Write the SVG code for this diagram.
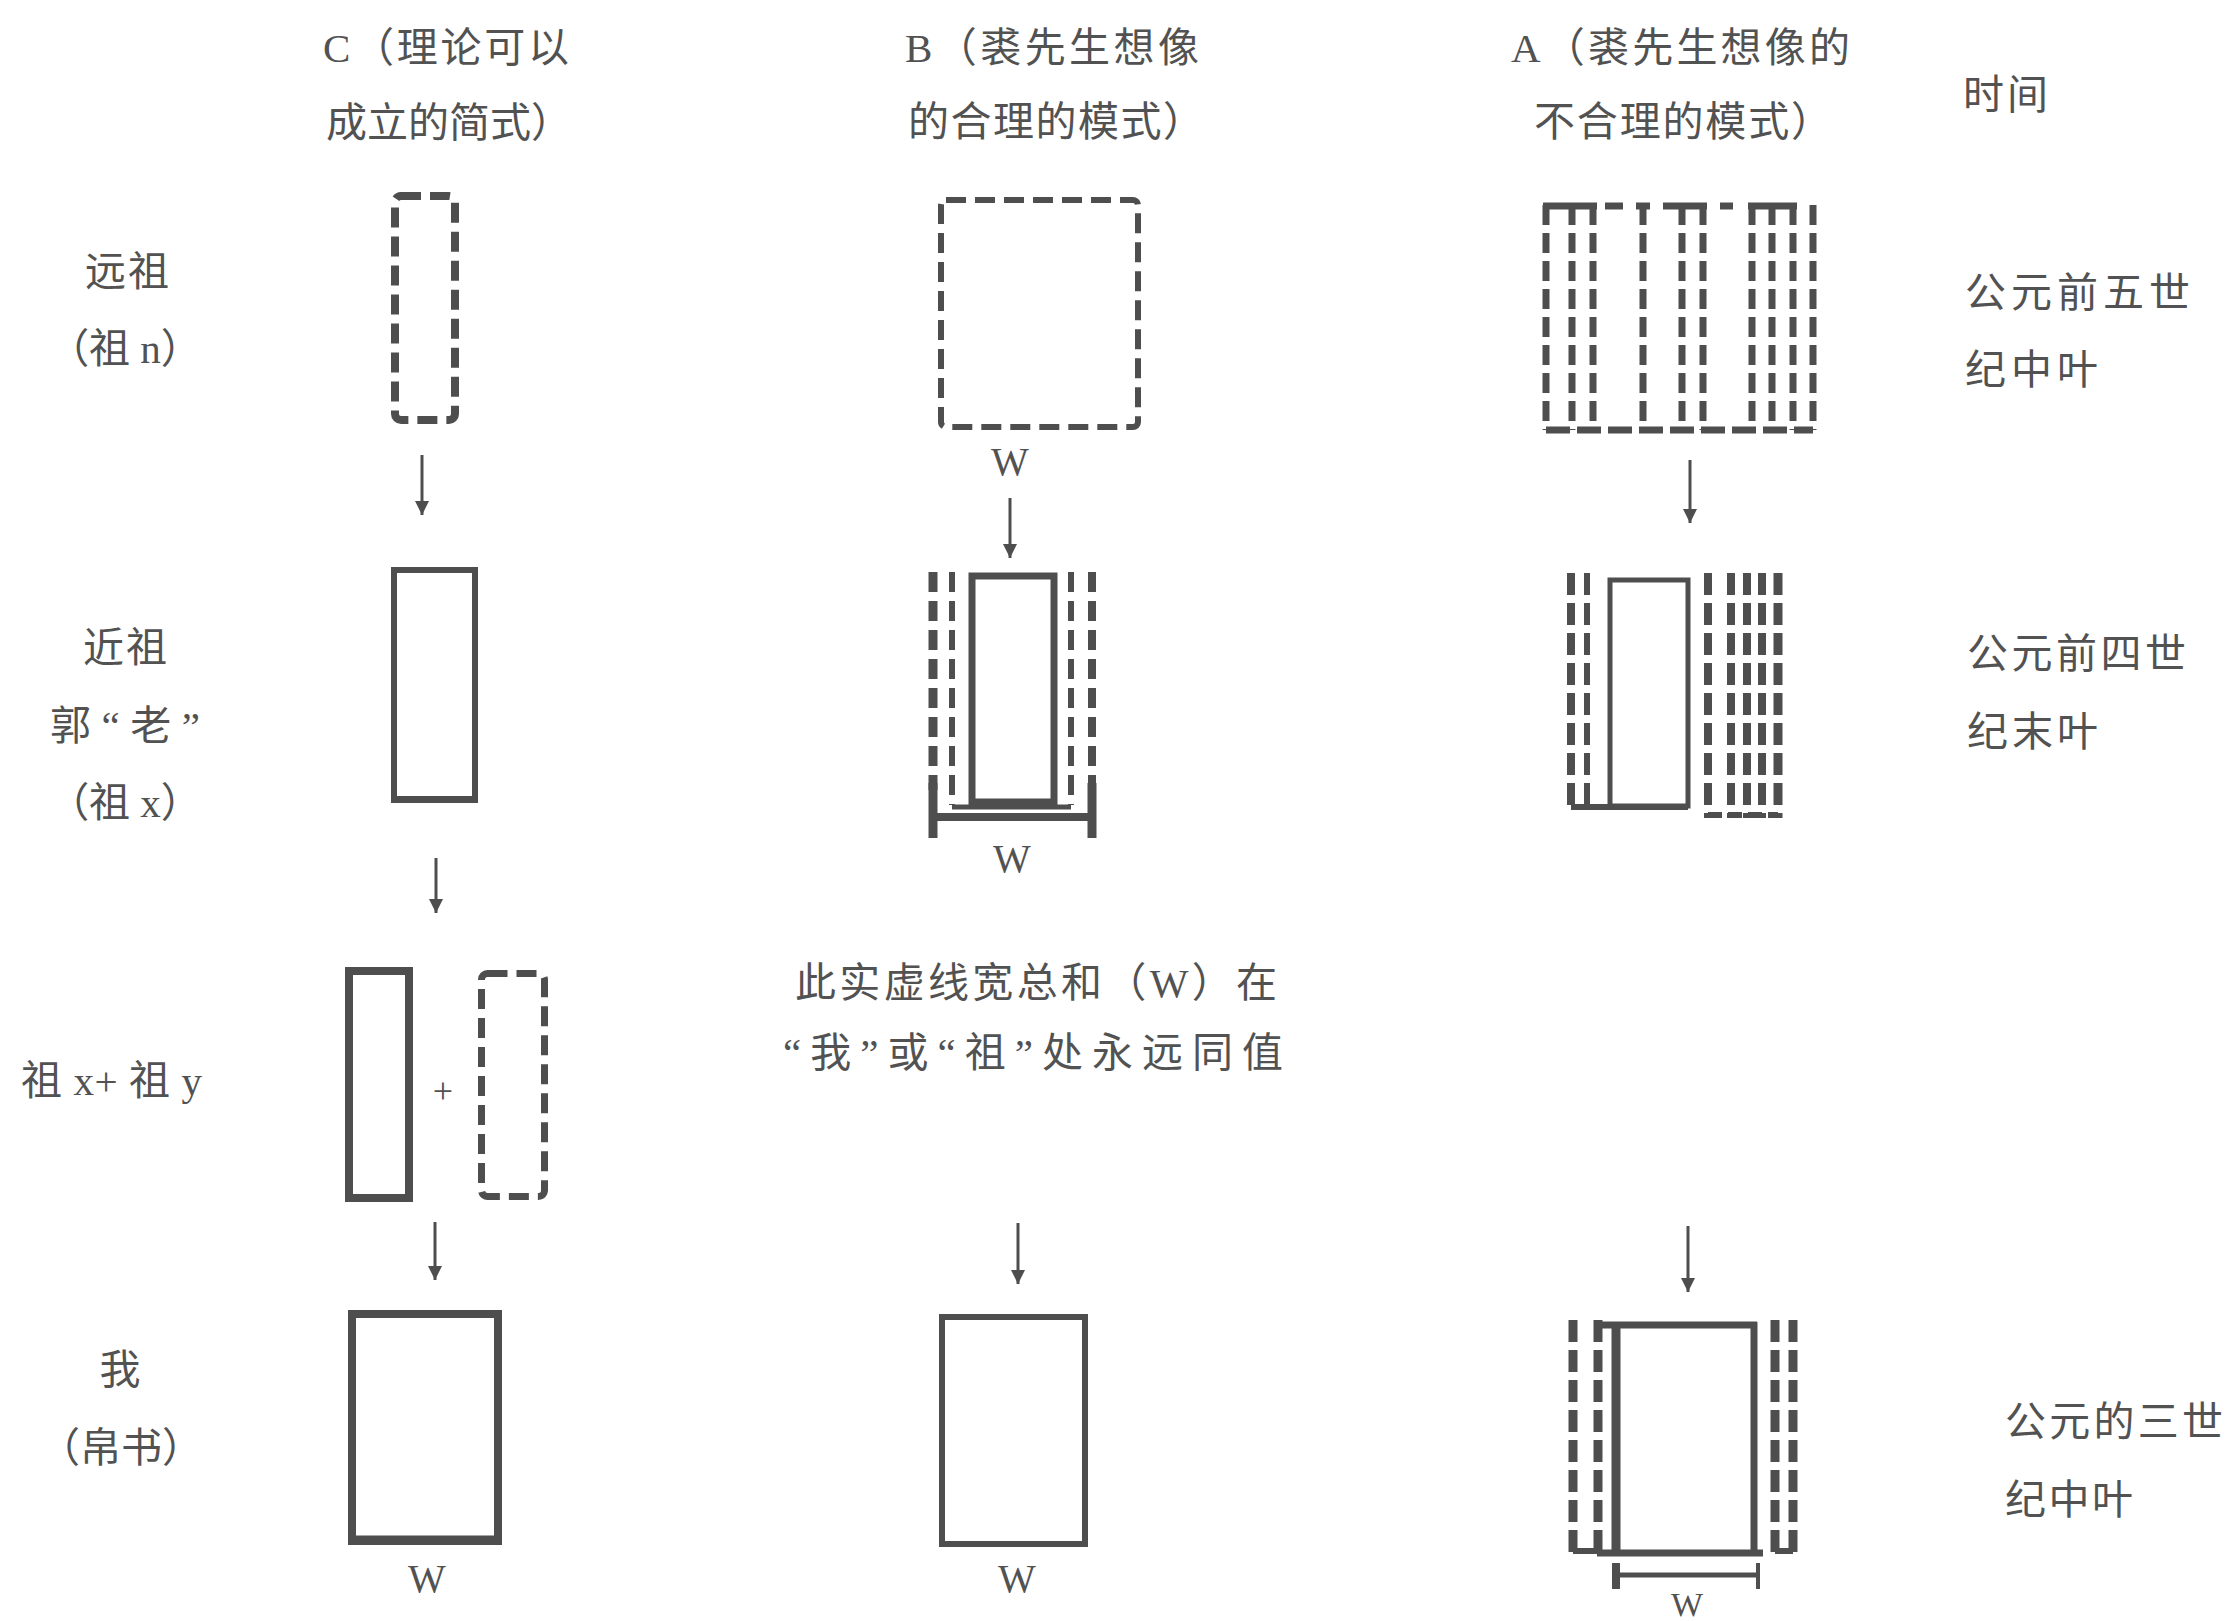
<svg xmlns="http://www.w3.org/2000/svg" width="2230" height="1621" viewBox="0 0 2230 1621">
<defs>
<style>
.t{font-family:"Liberation Serif","Noto Sans CJK SC",serif;font-size:41px;fill:#525252;}
.c{text-anchor:middle;}
.w{font-family:"Liberation Serif",serif;font-size:40px;fill:#525252;text-anchor:middle;}
.s{fill:none;stroke:#4e4e4e;}
.d{fill:none;stroke:#4e4e4e;stroke-dasharray:20 9;}
.a{stroke:#4e4e4e;stroke-width:3;fill:none;marker-end:url(#ah);}
</style>
<marker id="ah" markerUnits="userSpaceOnUse" markerWidth="16" markerHeight="16" refX="14" refY="7" orient="auto">
<path d="M0,0 L14,7 L0,14 z" fill="#4e4e4e"/>
</marker>
</defs>
<rect width="2230" height="1621" fill="#ffffff"/>

<g id="headers">
<text class="t" x="323" y="62" textLength="246">C（理论可以</text>
<text class="t" x="326" y="137" textLength="246">成立的简式）</text>
<text class="t" x="905" y="62" textLength="294">B（裘先生想像</text>
<text class="t" x="908" y="136" textLength="296">的合理的模式）</text>
<text class="t" x="1511" y="62" textLength="339">A（裘先生想像的</text>
<text class="t" x="1534" y="136" textLength="298">不合理的模式）</text>
</g>

<g id="time-labels">
<text class="t" x="1963" y="109" textLength="85">时间</text>
<text class="t" x="1965" y="307" textLength="225">公元前五世</text>
<text class="t" x="1965" y="384" textLength="133">纪中叶</text>
<text class="t" x="1967" y="668" textLength="219">公元前四世</text>
<text class="t" x="1967" y="746" textLength="131">纪末叶</text>
<text class="t" x="2005" y="1436" textLength="218">公元的三世</text>
<text class="t" x="2005" y="1514" textLength="128">纪中叶</text>
</g>

<g id="row-labels">
<text class="t" x="85" y="286" textLength="84">远祖</text>
<text class="t c" x="125" y="363">（祖 n）</text>
<text class="t" x="83" y="662" textLength="84">近祖</text>
<text class="t" x="50" y="740" textLength="150">郭“老”</text>
<text class="t c" x="125" y="817">（祖 x）</text>
<text class="t" x="21" y="1095" textLength="181">祖 x+ 祖 y</text>
<text class="t c" x="120" y="1384">我</text>
<text class="t c" x="121" y="1462">（帛书）</text>
</g>

<g id="note">
<text class="t" x="795" y="997" textLength="482">此实虚线宽总和（W）在</text>
<text class="t" x="783" y="1067" textLength="500">“我”或“祖”处永远同值</text>
</g>

<g id="C1">
<rect class="d" x="395" y="196" width="60" height="224" rx="6" stroke-width="8" stroke-dasharray="20 14"/>
</g>
<g id="C2">
<rect class="s" x="394" y="570" width="81" height="230" stroke-width="6"/>
<line class="s" x1="391" y1="799" x2="478" y2="799" stroke-width="6"/>
</g>
<g id="C3">
<rect class="s" x="349" y="971" width="60" height="227" stroke-width="8"/>
<text class="w" x="443" y="1103" style="font-size:36px">+</text>
<rect class="d" x="481.5" y="973.5" width="63" height="223" rx="6" stroke-width="7" stroke-dasharray="20 12"/>
</g>
<g id="C4">
<rect class="s" x="352" y="1314" width="146" height="227" stroke-width="8"/>
<line class="s" x1="352" y1="1540" x2="498" y2="1540" stroke-width="9"/>
<text class="w" x="427" y="1592">W</text>
</g>

<g id="B1">
<rect class="d" x="941" y="200" width="197" height="227" rx="5" stroke-width="6" stroke-dasharray="17 9"/>
<text class="w" x="1010" y="475">W</text>
</g>
<g id="B2">
<line class="d" x1="933" y1="572" x2="933" y2="790" stroke-width="9"/>
<line class="d" x1="952" y1="572" x2="952" y2="805" stroke-width="6"/>
<rect class="s" x="972" y="576" width="82" height="226" stroke-width="7"/>
<line class="d" x1="1071" y1="572" x2="1071" y2="805" stroke-width="6"/>
<line class="d" x1="1092" y1="572" x2="1092" y2="790" stroke-width="8"/>
<line class="s" x1="952" y1="807" x2="1071" y2="807" stroke-width="5"/>
<line class="s" x1="933" y1="817" x2="1092" y2="817" stroke-width="8"/>
<line class="s" x1="933" y1="783" x2="933" y2="838" stroke-width="9"/>
<line class="s" x1="1092" y1="783" x2="1092" y2="838" stroke-width="9"/>
<text class="w" x="1012" y="872">W</text>
</g>
<g id="B3">
<rect class="s" x="942" y="1317" width="143" height="227" stroke-width="6"/>
<text class="w" x="1017" y="1592">W</text>
</g>

<g id="A1">
<g stroke-width="7" class="d" style="stroke-dasharray:20 8">
<line x1="1546" y1="205" x2="1546" y2="430"/>
<line x1="1572" y1="205" x2="1572" y2="430"/>
<line x1="1593" y1="205" x2="1593" y2="430"/>
<line x1="1643" y1="205" x2="1643" y2="430"/>
<line x1="1682" y1="205" x2="1682" y2="430"/>
<line x1="1703" y1="205" x2="1703" y2="430"/>
<line x1="1752" y1="205" x2="1752" y2="430"/>
<line x1="1772" y1="205" x2="1772" y2="430"/>
<line x1="1793" y1="205" x2="1793" y2="430"/>
<line x1="1813" y1="205" x2="1813" y2="430"/>
</g>
<g class="s" stroke-width="7">
<line x1="1543" y1="206" x2="1597" y2="206"/>
<line x1="1605" y1="206" x2="1623" y2="206"/>
<line x1="1636" y1="206" x2="1650" y2="206"/>
<line x1="1663" y1="206" x2="1707" y2="206"/>
<line x1="1720" y1="206" x2="1733" y2="206"/>
<line x1="1748" y1="206" x2="1797" y2="206"/>
<line x1="1546" y1="430" x2="1813" y2="430" style="stroke-dasharray:24 7"/>
</g>
</g>

<g id="A2">
<g class="d" style="stroke-dasharray:22 8">
<line x1="1571" y1="573" x2="1571" y2="812" stroke-width="8"/>
<line x1="1587" y1="573" x2="1587" y2="812" stroke-width="6"/>
<line x1="1708" y1="573" x2="1708" y2="818" stroke-width="8"/>
<line x1="1731" y1="573" x2="1731" y2="818" stroke-width="8"/>
<line x1="1747" y1="573" x2="1747" y2="818" stroke-width="8"/>
<line x1="1762" y1="573" x2="1762" y2="818" stroke-width="8"/>
<line x1="1778" y1="573" x2="1778" y2="818" stroke-width="9"/>
</g>
<rect class="s" x="1610" y="580" width="78" height="226" stroke-width="5"/>
<line class="s" x1="1571" y1="807" x2="1688" y2="807" stroke-width="6"/>
<line class="s" x1="1708" y1="815" x2="1778" y2="815" stroke-width="6" stroke-dasharray="14 6"/>
</g>

<g id="A3">
<g class="d" style="stroke-dasharray:22 8">
<line x1="1573" y1="1320" x2="1573" y2="1553" stroke-width="9"/>
<line x1="1598" y1="1320" x2="1598" y2="1553" stroke-width="9"/>
<line x1="1775" y1="1320" x2="1775" y2="1553" stroke-width="9"/>
<line x1="1793" y1="1320" x2="1793" y2="1553" stroke-width="9"/>
</g>
<line class="s" x1="1573" y1="1551" x2="1598" y2="1551" stroke-width="6"/>
<line class="s" x1="1775" y1="1551" x2="1793" y2="1551" stroke-width="6"/>
<line class="s" x1="1598" y1="1325" x2="1757" y2="1325" stroke-width="7"/>
<line class="s" x1="1597" y1="1553" x2="1763" y2="1553" stroke-width="7"/>
<line class="s" x1="1616" y1="1322" x2="1616" y2="1556" stroke-width="9"/>
<line class="s" x1="1754" y1="1322" x2="1754" y2="1556" stroke-width="7"/>
<line class="s" x1="1616" y1="1575" x2="1758" y2="1575" stroke-width="5"/>
<line class="s" x1="1616" y1="1563" x2="1616" y2="1589" stroke-width="8"/>
<line class="s" x1="1758" y1="1563" x2="1758" y2="1589" stroke-width="4"/>
<text class="w" x="1687" y="1616" style="font-size:34px">W</text>
</g>

<g id="connectors">
<line class="a" x1="422" y1="455" x2="422" y2="515"/>
<line class="a" x1="436" y1="858" x2="436" y2="913"/>
<line class="a" x1="435" y1="1222" x2="435" y2="1280"/>
<line class="a" x1="1010" y1="498" x2="1010" y2="558"/>
<line class="a" x1="1018" y1="1223" x2="1018" y2="1284" stroke-width="5"/>
<line class="a" x1="1690" y1="460" x2="1690" y2="523"/>
<line class="a" x1="1688" y1="1226" x2="1688" y2="1292"/>
</g>
</svg>
